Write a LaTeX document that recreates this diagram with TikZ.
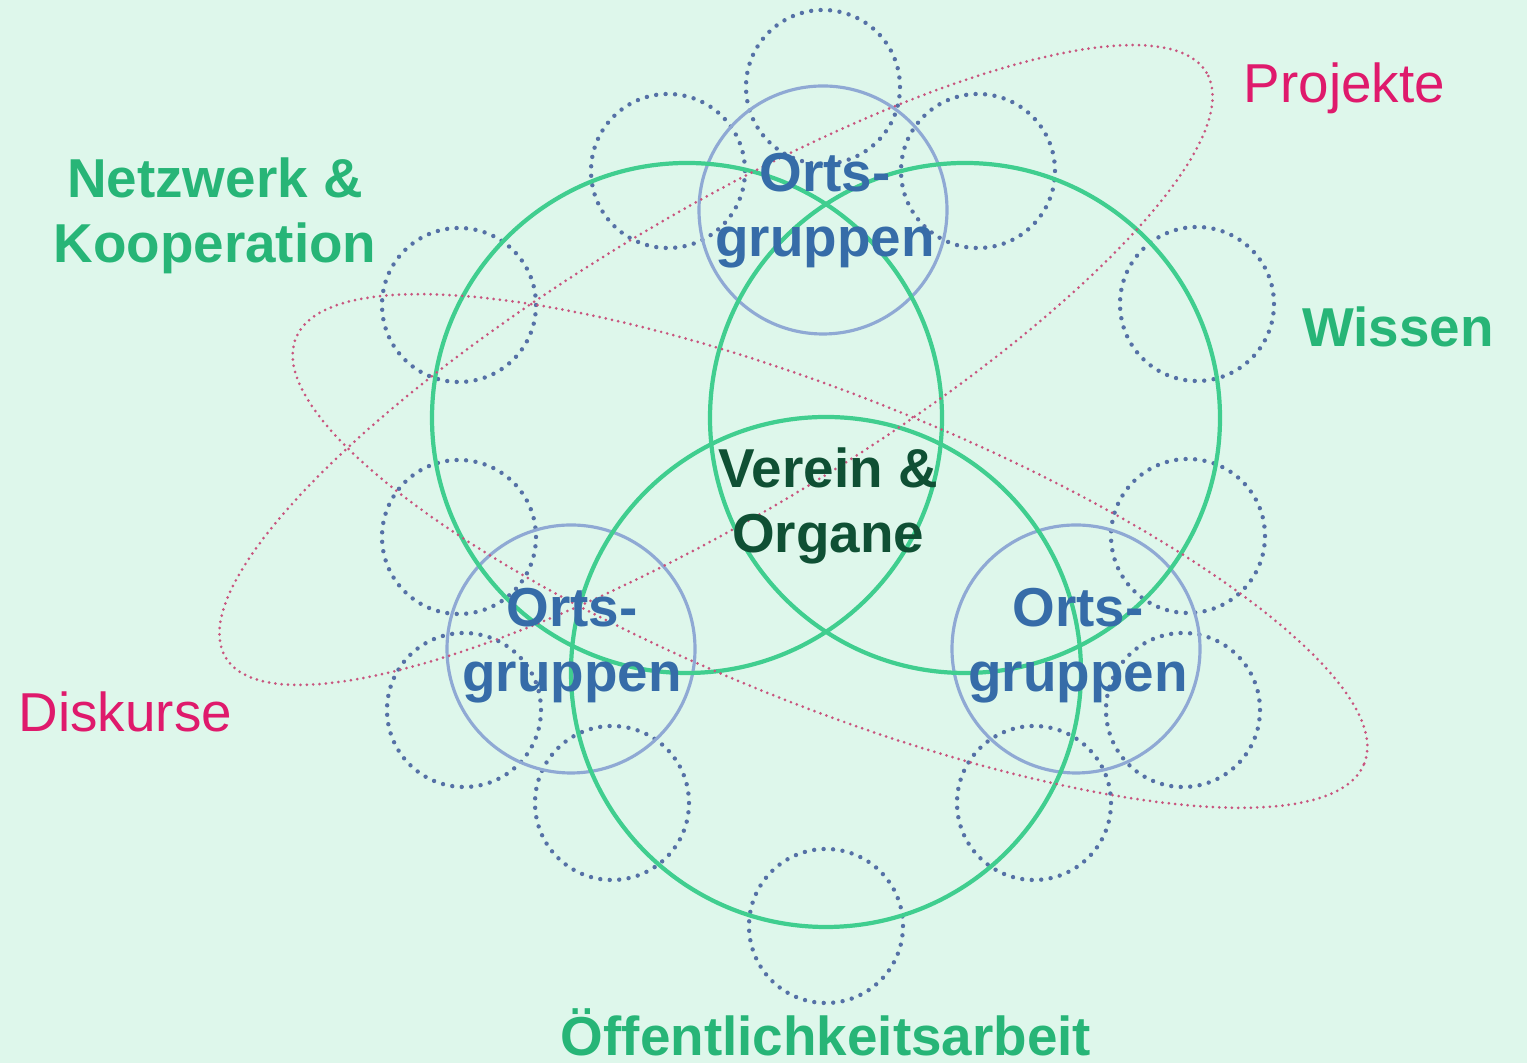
\documentclass[tikz,border=0pt]{standalone}
\usepackage{fontspec}
\setmainfont{Liberation Sans}
\definecolor{bgmint}{HTML}{DEF7EB}
\definecolor{ringgreen}{HTML}{40CE8F}
\definecolor{localblue}{HTML}{8FA9D4}
\definecolor{dotblue}{HTML}{5571A6}
\definecolor{dotpink}{HTML}{C8557E}
\definecolor{labelgreen}{HTML}{27B577}
\definecolor{labelpink}{HTML}{DF1A6C}
\definecolor{textblue}{HTML}{366CA8}
\definecolor{textdark}{HTML}{0F5034}
\begin{document}
\begin{tikzpicture}[every node/.style={inner sep=0pt, align=center, font=\fontsize{15.6}{18.5}\selectfont},
  ring/.style={draw=ringgreen, line width=1.2pt},
  local/.style={draw=localblue, line width=0.9pt},
  satellite/.style={draw=dotblue, line width=1.25pt, line cap=round, dash pattern=on 0pt off 2.7pt},
  orbit/.style={draw=dotpink, line width=0.85pt, line cap=round, dash pattern=on 0pt off 1.8pt}]
\fill[bgmint] (0,0) rectangle (15.27,10.63);
\useasboundingbox (0,0) rectangle (15.27,10.63);

% small dotted circles
\draw[satellite] (8.23,9.76) circle (0.77); \draw[satellite] (6.68,8.92) circle (0.77); \draw[satellite] (9.78,8.92) circle (0.77);
\draw[satellite] (4.59,7.58) circle (0.77); \draw[satellite] (11.97,7.59) circle (0.77);
\draw[satellite] (4.59,5.26) circle (0.77); \draw[satellite] (11.88,5.27) circle (0.77);
\draw[satellite] (4.64,3.53) circle (0.77); \draw[satellite] (11.83,3.53) circle (0.77);
\draw[satellite] (6.12,2.60) circle (0.77); \draw[satellite] (10.34,2.60) circle (0.77); \draw[satellite] (8.26,1.37) circle (0.77);

% Ortsgruppen
\draw[local] (8.23,8.53) circle (1.24); \draw[local] (5.71,4.14) circle (1.24); \draw[local] (10.76,4.14) circle (1.24);

% big rings
\draw[ring] (6.87,6.45) circle (2.55); \draw[ring] (9.65,6.45) circle (2.55); \draw[ring] (8.26,3.91) circle (2.55);

% orbits
\draw[orbit, rotate around={30.8:(7.16,6.98)}] (7.16,6.98) ellipse (5.71 and 1.51);
\draw[orbit, rotate around={-21.7:(8.30,5.12)}] (8.30,5.12) ellipse (5.75 and 1.55);

\node[text=textblue, font=\fontsize{15.6}{18.5}\selectfont\bfseries] (og1) at (8.25,8.52) {Orts-\\gruppen};
\node[text=textblue, font=\fontsize{15.6}{18.5}\selectfont\bfseries] (og2) at (5.72,4.17) {Orts-\\gruppen};
\node[text=textblue, font=\fontsize{15.6}{18.5}\selectfont\bfseries] (og3) at (10.78,4.17) {Orts-\\gruppen};
\node[text=textdark, font=\fontsize{15.6}{18.5}\selectfont\bfseries] (verein) at (8.28,5.57) {Verein \&\\Organe};

\node[text=labelgreen, font=\fontsize{15.6}{18.5}\selectfont\bfseries] (netzwerk) at (2.15,8.47) {Netzwerk \&\\Kooperation};
\node[text=labelgreen, font=\fontsize{15.6}{18.5}\selectfont\bfseries, anchor=base] (wissen) at (13.98,7.16) {Wissen};
\node[text=labelgreen, font=\fontsize{15.6}{18.5}\selectfont\bfseries, anchor=base] (oeffentlich) at (8.26,0.07) {Öffentlichkeitsarbeit};
\node[text=labelpink, anchor=base west] (projekte) at (12.43,9.60) {Projekte};
\node[text=labelpink, anchor=base west] (diskurse) at (0.18,3.31) {Diskurse};

\end{tikzpicture}
\end{document}
